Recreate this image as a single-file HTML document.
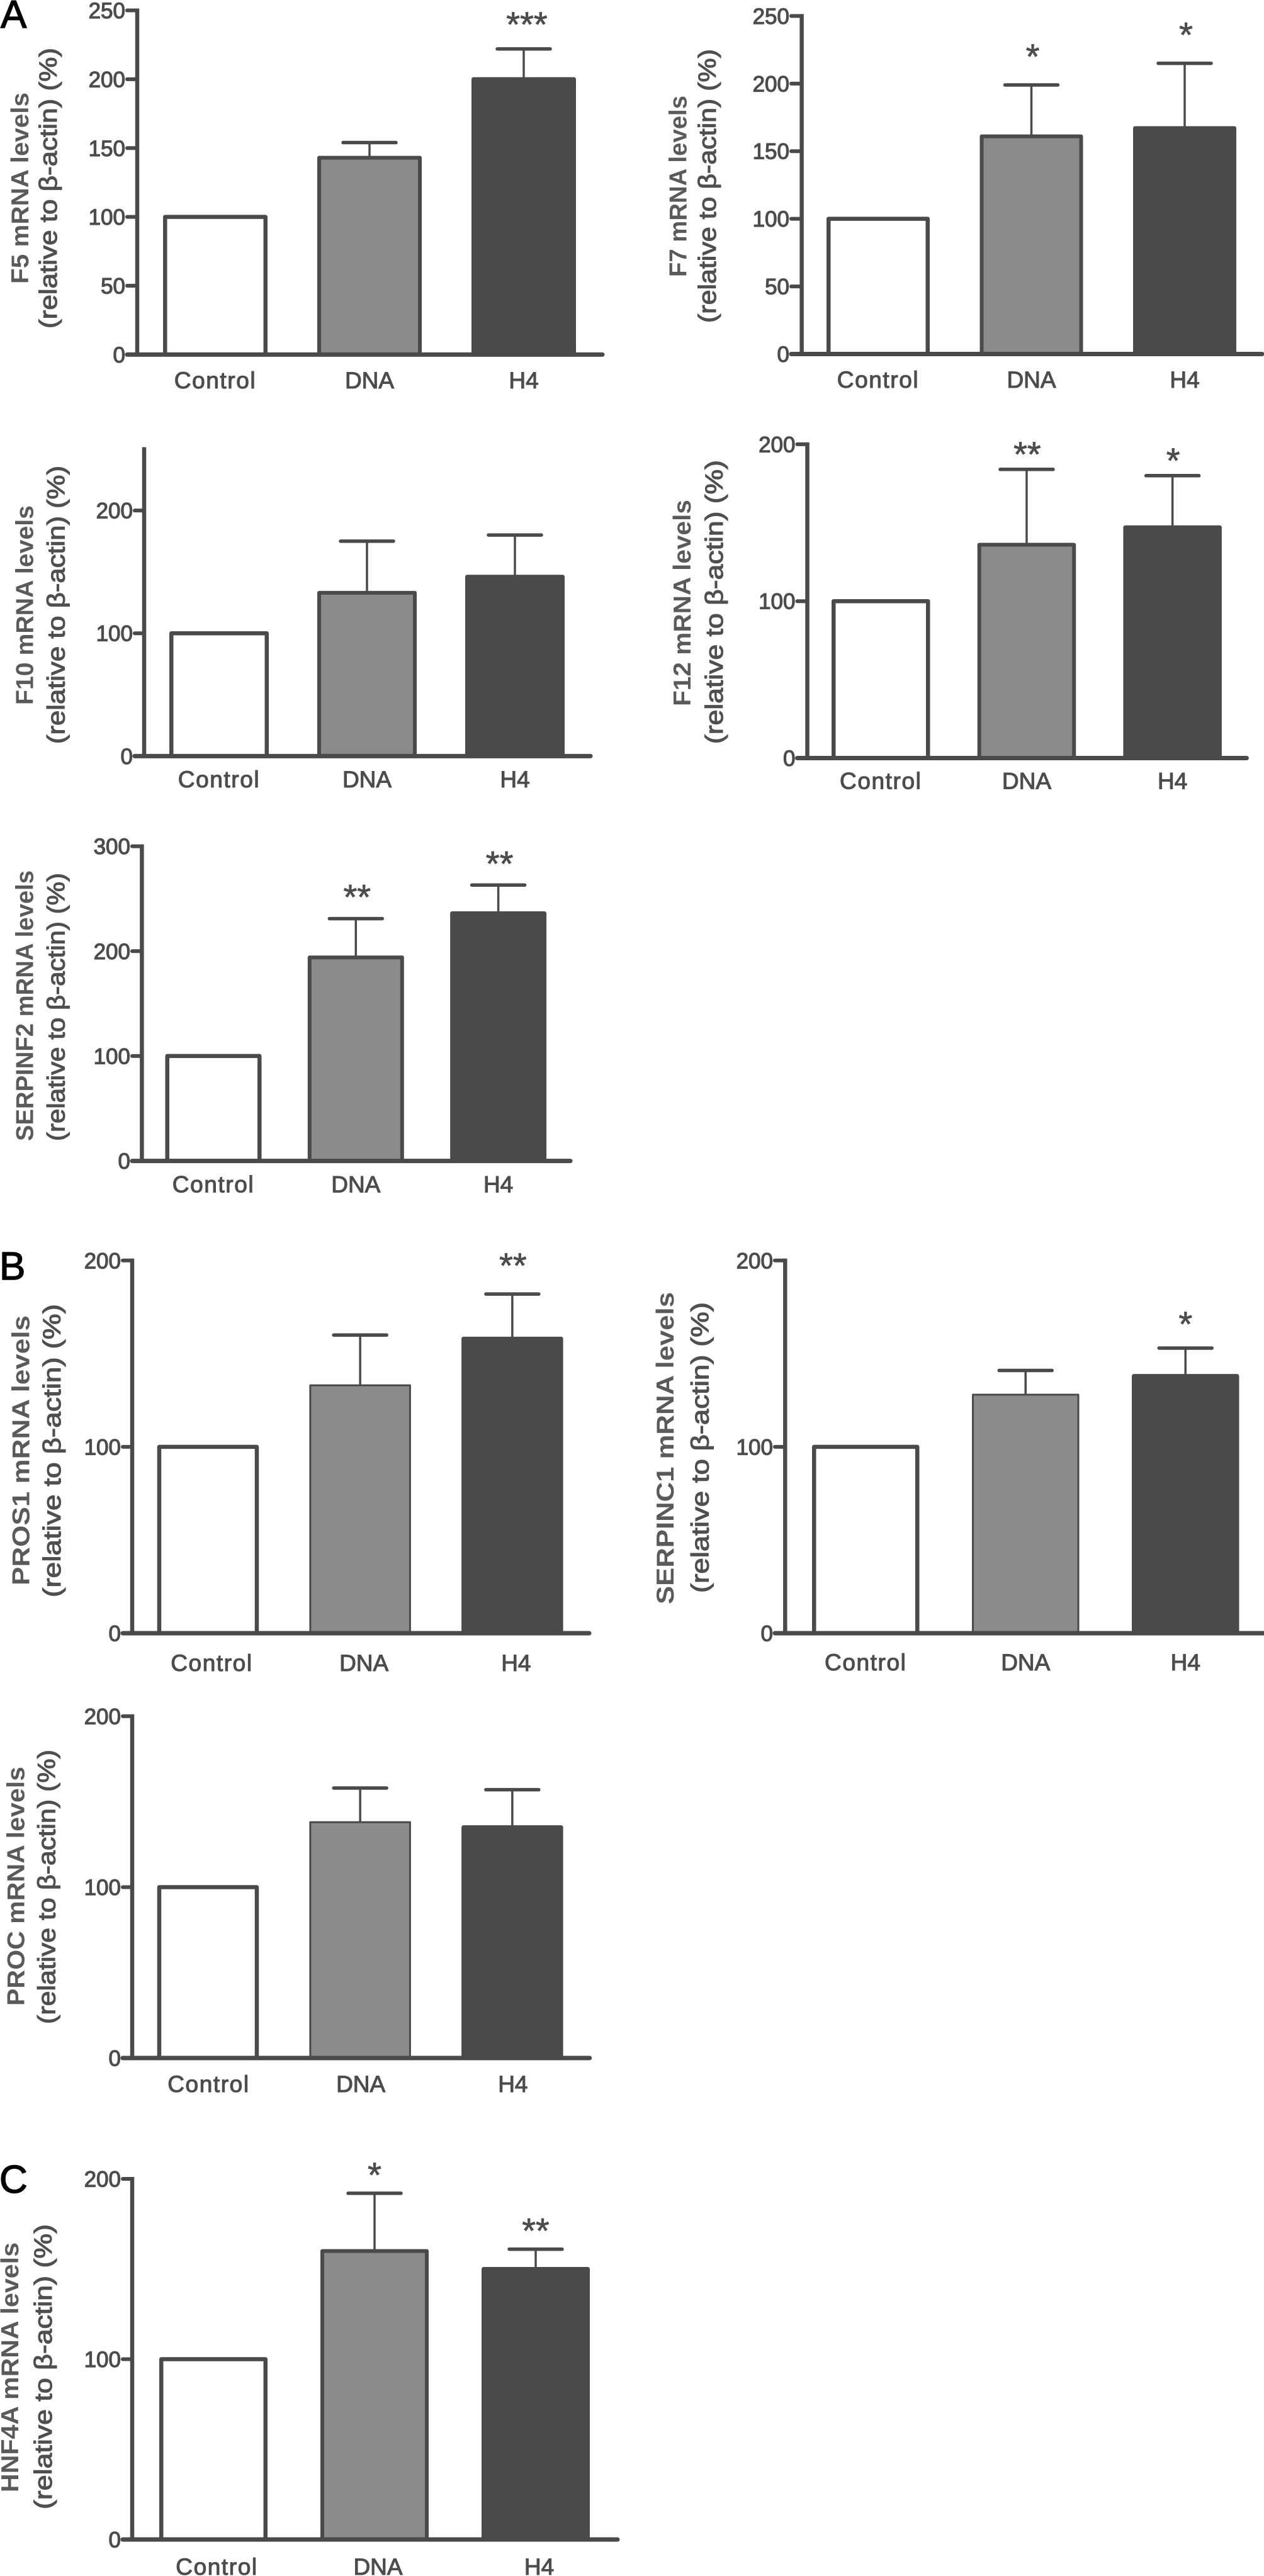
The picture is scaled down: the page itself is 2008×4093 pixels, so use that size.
<!DOCTYPE html>
<html lang="en">
<head>
<meta charset="utf-8">
<title>mRNA levels relative to β-actin</title>
<style>
html,body{margin:0;padding:0;background:#fff;}
svg{display:block;}
text{font-family:"Liberation Sans",Arial,sans-serif;}
.tick{font-size:35px;fill:#4c4c4c;stroke:#4c4c4c;stroke-width:1.2px;text-anchor:end;}
.cat{font-size:37px;fill:#4c4c4c;stroke:#4c4c4c;stroke-width:1.1px;text-anchor:middle;}
.y1{font-size:39px;font-weight:bold;fill:#5a5a5a;}
.y2{font-size:39px;fill:#4f4f4f;stroke:#4f4f4f;stroke-width:1.1px;}
.star{font-size:56px;fill:#4c4c4c;stroke:#4c4c4c;stroke-width:.8px;text-anchor:middle;}
.letter{font-size:62px;fill:#000;stroke:#000;stroke-width:1.4px;}
</style>
</head>
<body>
<svg id="figure" xmlns="http://www.w3.org/2000/svg" width="2008" height="4093" viewBox="0 0 2008 4093">
<text class="letter" x="1" y="44">A</text>
<text class="letter" x="-1" y="2033">B</text>
<text class="letter" x="-1" y="3484">C</text>
</svg>
<script>
const categories = ['Control', 'DNA', 'H4'];

const f5Means = [100, 143, 200];
const f5Errors = [0, 11, 22];
const f5Stars = ['', '', '***'];
const f5Ticks = [0, 50, 100, 150, 200, 250];

const f7Means = [100, 161, 167];
const f7Errors = [0, 38, 48];
const f7Stars = ['', '*', '*'];
const f7Ticks = [0, 50, 100, 150, 200, 250];

const f10Means = [100, 133, 146];
const f10Errors = [0, 42, 34];
const f10Stars = ['', '', ''];
const f10Ticks = [0, 100, 200];

const f12Means = [100, 136, 147];
const f12Errors = [0, 48, 33];
const f12Stars = ['', '**', '*'];
const f12Ticks = [0, 100, 200];

const serpinf2Means = [100, 194, 236];
const serpinf2Errors = [0, 37, 27];
const serpinf2Stars = ['', '**', '**'];
const serpinf2Ticks = [0, 100, 200, 300];

const pros1Means = [100, 133, 158];
const pros1Errors = [0, 27, 24];
const pros1Stars = ['', '', '**'];
const pros1Ticks = [0, 100, 200];

const serpinc1Means = [100, 128, 138];
const serpinc1Errors = [0, 13, 15];
const serpinc1Stars = ['', '', '*'];
const serpinc1Ticks = [0, 100, 200];

const procMeans = [100, 138, 135];
const procErrors = [0, 20, 22];
const procStars = ['', '', ''];
const procTicks = [0, 100, 200];

const hnf4aMeans = [100, 160, 150];
const hnf4aErrors = [0, 32, 11];
const hnf4aStars = ['', '*', '**'];
const hnf4aTicks = [0, 100, 200];

const panels = [
  {id:'f5', title:'F5 mRNA levels', means:f5Means, errors:f5Errors, stars:f5Stars, ticks:f5Ticks, axisMax:250,
   axisX:218, y0:563.4, yTop:16.5, tickX:202, endX:957, left:259, step:245, barW:166, catBase:617, catDx:0, midSw:6,
   starGap:47, starDx:5, l1:[45,451,147], l2:[90,522,76]},
  {id:'f7', title:'F7 mRNA levels', means:f7Means, errors:f7Errors, stars:f7Stars, ticks:f7Ticks, axisMax:250,
   axisX:1273.6, y0:562.5, yTop:25.4, tickX:1257, endX:2005, left:1313, step:243.5, barW:164, catBase:616, catDx:0, midSw:6,
   starGap:53, starDx:2, l1:[1090.4,440,152], l2:[1137,513,78]},
  {id:'f10', title:'F10 mRNA levels', means:f10Means, errors:f10Errors, stars:f10Stars, ticks:f10Ticks, axisMax:250,
   axisX:229, y0:1201.4, yTop:713.5, tickX:214, endX:938, left:269, step:235, barW:158, catBase:1251, catDx:0, midSw:6,
   starGap:50, starDx:0, l1:[52.5,1120,803], l2:[102.4,1182,740]},
  {id:'f12', title:'F12 mRNA levels', means:f12Means, errors:f12Errors, stars:f12Stars, ticks:f12Ticks, axisMax:200,
   axisX:1282.5, y0:1204.5, yTop:705.9, tickX:1266.5, endX:1980.4, left:1321, step:231.7, barW:156.5, catBase:1253.7, catDx:0, midSw:6,
   starGap:32, starDx:1, l1:[1096.8,1122,794], l2:[1148,1182,731]},
  {id:'serpinf2', title:'SERPINF2 mRNA levels', means:serpinf2Means, errors:serpinf2Errors, stars:serpinf2Stars, ticks:serpinf2Ticks, axisMax:300,
   axisX:225.4, y0:1844.6, yTop:1344.6, tickX:210, endX:906, left:262.5, step:226.3, barW:153, catBase:1894.6, catDx:0, midSw:6,
   starGap:42, starDx:2, l1:[52.5,1813,1383], l2:[102.4,1813,1387]},
  {id:'pros1', title:'PROS1 mRNA levels', means:pros1Means, errors:pros1Errors, stars:pros1Stars, ticks:pros1Ticks, axisMax:200,
   axisX:210, y0:2595, yTop:2002.8, tickX:195, endX:936, left:249.7, step:241.7, barW:161.5, catBase:2654.8, catDx:6, midSw:3,
   starGap:53, starDx:1, l1:[46.7,2519,2090], l2:[96,2538,2072]},
  {id:'serpinc1', title:'SERPINC1 mRNA levels', means:serpinc1Means, errors:serpinc1Errors, stars:serpinc1Stars, ticks:serpinc1Ticks, axisMax:200,
   axisX:1247.3, y0:2595, yTop:2002.8, tickX:1231, endX:2008, left:1290, step:254, barW:170.5, catBase:2654, catDx:0, midSw:3,
   starGap:46, starDx:0, l1:[1070,2549,2053], l2:[1125.7,2531,2069]},
  {id:'proc', title:'PROC mRNA levels', means:procMeans, errors:procErrors, stars:procStars, ticks:procTicks, axisMax:200,
   axisX:210, y0:3270, yTop:2726.9, tickX:195, endX:936.7, left:249.7, step:241.7, barW:161.5, catBase:3324, catDx:1, midSw:3,
   starGap:50, starDx:0, l1:[38.4,3187,2807], l2:[87.7,3216,2780]},
  {id:'hnf4a', title:'HNF4A mRNA levels', means:hnf4aMeans, errors:hnf4aErrors, stars:hnf4aStars, ticks:hnf4aTicks, axisMax:200,
   axisX:210, y0:4035, yTop:3462, tickX:195, endX:981, left:253, step:256, barW:172, catBase:4091, catDx:5.5, midSw:6,
   starGap:37, starDx:0, l1:[28.8,3960,3563], l2:[82,3987,3534]}
];

const Y_LINE_TWO = '(relative to β-actin) (%)';
const INK = '#4a4a4a';
const BAR_FILLS = ['#ffffff', '#8b8b8b', '#4a4a4a'];
const NS = 'http://www.w3.org/2000/svg';
const svg = document.getElementById('figure');

function make(parent, tag, attrs, content) {
  const el = document.createElementNS(NS, tag);
  for (const k in attrs) el.setAttribute(k, attrs[k]);
  if (content !== undefined) el.textContent = content;
  parent.appendChild(el);
  return el;
}

function yScale(p) {
  return function (v) { return p.y0 - (v / p.axisMax) * (p.y0 - p.yTop); };
}
function bandLeft(p, i) { return p.left + i * p.step; }
function bandCenter(p, i) { return bandLeft(p, i) + p.barW / 2; }

panels.forEach(function (p) {
  const y = yScale(p);
  const g = make(svg, 'g', {});
  
  

  const line1 = make(g, 'text', {class:'y1', x:p.l1[0], y:p.l1[1], transform:'rotate(-90 ' + p.l1[0] + ' ' + p.l1[1] + ')',
    textLength:p.l1[1] - p.l1[2], lengthAdjust:'spacingAndGlyphs'}, p.title);
  
  

  const line2 = make(g, 'text', {class:'y2', x:p.l2[0], y:p.l2[1], transform:'rotate(-90 ' + p.l2[0] + ' ' + p.l2[1] + ')',
    textLength:p.l2[1] - p.l2[2], lengthAdjust:'spacingAndGlyphs'}, Y_LINE_TWO);
  
  

  categories.forEach(function (cat, i) {
    const sw = i === 1 ? p.midSw : 6.5;
    const top = y(p.means[i]);
    const cx = bandCenter(p, i);

    if (p.errors[i] > 0) {
      const errTop = y(p.means[i] + p.errors[i]);
      const stem = make(g, 'line', {x1:cx, x2:cx, y1:top, y2:errTop, stroke:INK, 'stroke-width':3.5});
      
      
      const cap = make(g, 'line', {x1:cx - 42, x2:cx + 42, y1:errTop, y2:errTop, stroke:INK, 'stroke-width':5.5, 'stroke-linecap':'round'});
      
      
    }

    const bar = make(g, 'rect', {x:bandLeft(p, i) + sw / 2, y:top, width:p.barW - sw, height:p.y0 - top,
      fill:BAR_FILLS[i], stroke:INK, 'stroke-width':sw, 'stroke-linejoin':'round'});
    
    

    const label = make(g, 'text', {class:'cat', x:cx + p.catDx, y:p.catBase}, cat);
    label.style.letterSpacing = cat.length > 3 ? '1.6px' : '0';
    
    

    if (p.stars[i]) {
      const starCy = y(p.means[i] + p.errors[i]) - p.starGap;
      const star = make(g, 'text', {class:'star', x:cx + p.starDx, y:starCy + 27}, p.stars[i]);
      
      
    }
  });

  const yAxis = make(g, 'line', {x1:p.axisX, x2:p.axisX, y1:p.yTop - 3, y2:p.y0 + 3, stroke:INK, 'stroke-width':6.5});
  
  

  const xAxis = make(g, 'line', {x1:p.tickX, x2:p.endX, y1:p.y0, y2:p.y0, stroke:INK, 'stroke-width':7, 'stroke-linecap':'round'});
  
  

  p.ticks.forEach(function (t) {
    const ty = y(t);
    if (t !== 0) {
      const mark = make(g, 'line', {x1:p.tickX, x2:p.axisX, y1:ty, y2:ty, stroke:INK, 'stroke-width':6, 'stroke-linecap':'round'});
      
      
    }
    const tl = make(g, 'text', {class:'tick', x:p.tickX - 3, y:ty + 12.5}, String(t));
    
    
  });
});
</script>
</body>
</html>
